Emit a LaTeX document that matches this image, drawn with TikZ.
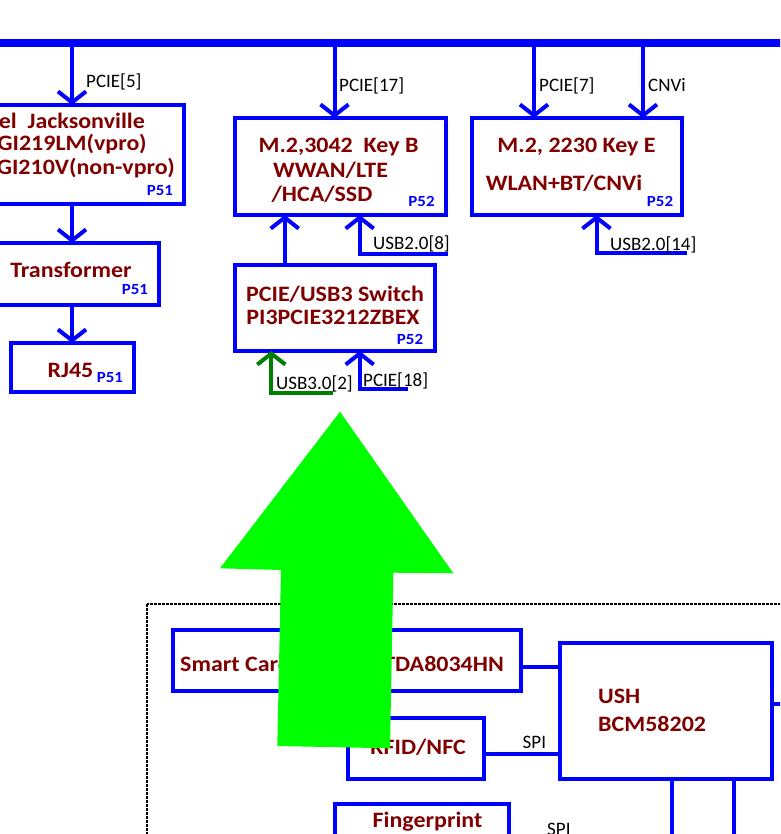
\documentclass[tikz,border=0pt]{standalone}
\usepackage{fontspec}
\setmainfont{Carlito}
\newfontfamily\boxfont{Carlito}[FakeStretch=1.09]
\usetikzlibrary{arrows.meta}
\definecolor{bxred}{RGB}{128,0,0}
\definecolor{lnblue}{RGB}{0,0,255}
\definecolor{dkgreen}{RGB}{0,128,0}
\definecolor{brgreen}{RGB}{0,255,0}
\begin{document}
\begin{tikzpicture}[x=1pt,y=-1pt,
 box/.style={draw=lnblue, line width=4pt, rectangle, inner sep=0pt, outer sep=0pt},
 conn/.style={draw=lnblue, line width=4pt},
 arr/.style={conn, -{Straight Barb[length=11pt,width=28pt]}},
 garr/.style={draw=dkgreen, line width=4pt, -{Straight Barb[length=11pt,width=28pt]}},
 bus/.style={draw=lnblue, line width=7.5pt},
 btxt/.style={text=bxred, font=\boxfont\fontsize{22}{24}\selectfont\bfseries, inner sep=0pt, anchor=base},
 pg/.style={text=lnblue, font=\boxfont\fontsize{15.5}{17}\selectfont\bfseries, inner sep=0pt, anchor=base},
 lbl/.style={text=black, font=\fontsize{19}{22}\selectfont, inner sep=0pt, anchor=base west},
 frame/.style={draw=black, line width=1.5pt, dash pattern=on 3pt off 1pt}
]
\clip (0,0) rectangle (780,834);

% dashed frame
\draw[frame] (147,604) rectangle (820,900);

% boxes
\node[box, minimum width=204pt, minimum height=99pt] (jack) at (82,154.5) {};
\node[box, minimum width=179pt, minimum height=62pt] (trans) at (69.5,274) {};
\node[box, minimum width=123.5pt, minimum height=49pt] (rj) at (72.25,367.5) {};
\node[box, minimum width=211pt, minimum height=97pt] (m2b) at (340.5,166.5) {};
\node[box, minimum width=210pt, minimum height=97pt] (m2e) at (577,166.5) {};
\node[box, minimum width=200pt, minimum height=86pt] (sw) at (334.5,308) {};
\node[box, minimum width=348pt, minimum height=61.3pt] (sc) at (347,660.35) {};
\node[box, minimum width=212pt, minimum height=136pt] (ush) at (665.5,711) {};
\node[box, minimum width=136.5pt, minimum height=61pt] (rfid) at (415.75,748.5) {};
\node[box, minimum width=174.5pt, minimum height=76pt] (fp) at (421.75,842) {};

% bus
\coordinate (busL) at (-10,43);
\coordinate (busR) at (790,43);
\draw[bus] (busL) -- (busR);
\coordinate (b5) at (72,43);
\coordinate (b17) at (334.5,43);
\coordinate (b7) at (534,43);
\coordinate (bc) at (643,43);
\draw[arr] (b5) -- (b5 |- jack.north);
\draw[arr] (b17) -- (b17 |- m2b.north);
\draw[arr] (b7) -- (b7 |- m2e.north);
\draw[arr] (bc) -- (bc |- m2e.north);

% left chain
\draw[arr] (b5 |- jack.south) -- (b5 |- trans.north);
\draw[arr] (b5 |- trans.south) -- (b5 |- rj.north);

% switch to m2b
\coordinate (s1) at (284.7,0);
\draw[arr] (s1 |- sw.north) -- (s1 |- m2b.south);
\coordinate (u8e) at (448,253.7);
\coordinate (u8c) at (359.7,253.7);
\draw[arr] (u8e) -- (u8c) -- (u8c |- m2b.south);
\coordinate (u14e) at (686.7,253);
\coordinate (u14c) at (596.5,253);
\draw[arr] (u14e) -- (u14c) -- (u14c |- m2e.south);

% inputs to switch
\coordinate (g3e) at (333.3,392.5);
\coordinate (g3c) at (271.3,392.5);
\draw[garr] (g3e) -- (g3c) -- (g3c |- sw.south);
\coordinate (p18e) at (408,388.7);
\coordinate (p18c) at (359.7,388.7);
\draw[arr] (p18e) -- (p18c) -- (p18c |- sw.south);

% lower part
\coordinate (y1) at (0,667);
\draw[conn] (sc.east |- y1) -- (ush.west |- y1);
\coordinate (y2) at (0,754);
\draw[conn] (rfid.east |- y2) -- (ush.west |- y2);
\coordinate (ub1) at (671.5,850);
\coordinate (ub2) at (733.7,850);
\draw[conn] (ub1 |- ush.south) -- (ub1);
\draw[conn] (ub2 |- ush.south) -- (ub2);
\coordinate (ur) at (800,704);
\draw[conn] (ush.east |- ur) -- (ur);

% labels
\node[lbl] (t5) at (86,87.3) {PCIE[5]};
\node[lbl] (t17) at (339,91.5) {PCIE[17]};
\node[lbl] (t7) at (539,91.5) {PCIE[7]};
\node[lbl] (tc) at (648,91.5) {CNVi};
\node[lbl] (t14) at (610,250) {USB2.0[14]};
\node[lbl] (t8) at (373,249) {USB2.0[8]};
\node[lbl] (tu3) at (276,389) {USB3.0[2]};
\node[lbl] (t18) at (363,386) {PCIE[18]};
\node[lbl] (spi1) at (522.5,748) {SPI};
\node[lbl] (spi2) at (547,835.5) {SPI};

% box texts
\node[btxt, anchor=base east] (j1) at (145,128.3) {Intel\ \ Jacksonville};
\node[btxt, anchor=base east] (j2) at (146.7,150.7) {WGI219LM(vpro)};
\node[btxt, anchor=base east] (j3) at (175,175) {WGI210V(non-vpro)};
\node[pg] (pj) at (160,196) {P51};
\node[btxt] (tr) at (71,277.3) {Transformer};
\node[pg] (ptr) at (135,294) {P51};
\node[btxt] (rjt) at (70.5,377) {RJ45};
\node[pg] (prj) at (110,382) {P51};
\node[btxt] (mb1) at (338.5,153) {M.2,3042\ \ Key B};
\node[btxt] (mb2) at (330.5,178) {WWAN/LTE};
\node[btxt] (mb3) at (322,202) {/HCA/SSD};
\node[pg] (pmb) at (421.5,207) {P52};
\node[btxt] (me1) at (576.5,153) {M.2, 2230 Key E};
\node[btxt] (me2) at (564,191) {WLAN+BT/CNVi};
\node[pg] (pme) at (660,207) {P52};
\node[btxt] (sw1) at (335,301) {PCIE/USB3 Switch};
\node[btxt] (sw2) at (333,324) {PI3PCIE3212ZBEX};
\node[pg] (psw) at (410,344) {P52};
\node[btxt, anchor=base west] (sc1) at (180,671) {Smart Card};
\node[btxt, anchor=base east] (sc2) at (504,671) {TDA8034HN};
\node[btxt, anchor=base west] (us1) at (598,703) {USH};
\node[btxt, anchor=base west] (us2) at (598,731) {BCM58202};
\node[btxt, anchor=base east] (rf) at (466,754) {RFID/NFC};
\node[btxt] (fpt) at (427.5,827) {Fingerprint};

% big green arrow
\fill[brgreen] (340,411.7) -- (453.3,573.3) -- (393.3,572.7) -- (390,748.3)
  -- (277.3,746) -- (281,570) -- (220,568.3) -- cycle;
\end{tikzpicture}
\end{document}
